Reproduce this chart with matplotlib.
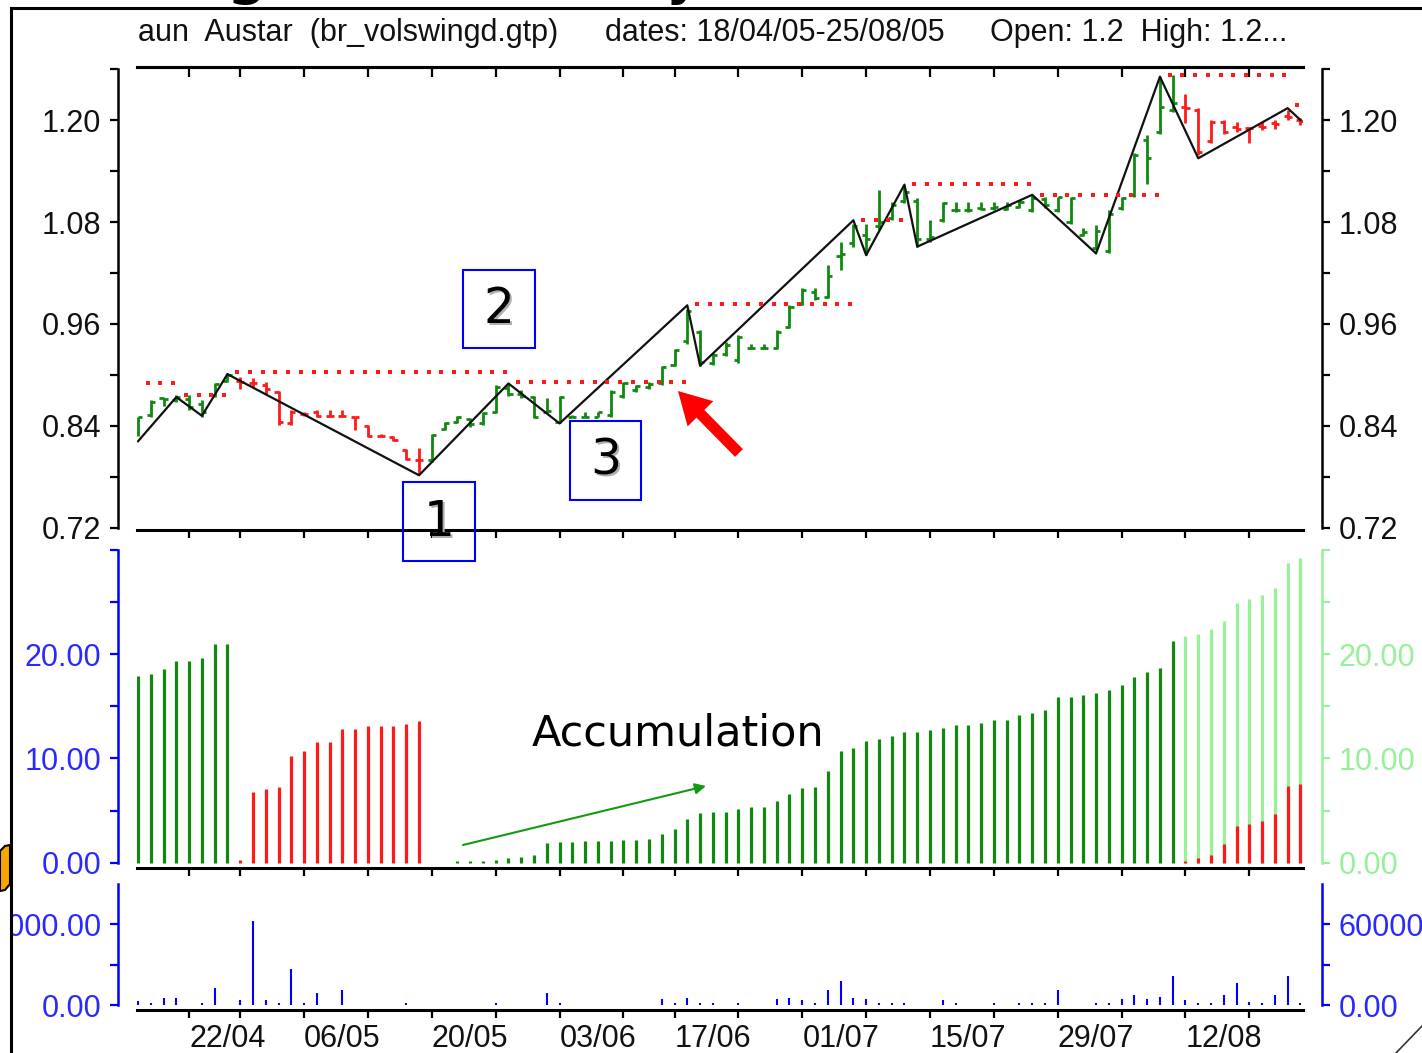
import numpy as np
import pandas as pd
import matplotlib
matplotlib.use('Agg')
import matplotlib.pyplot as plt
from matplotlib.ticker import FixedLocator, FixedFormatter
from matplotlib.patches import Rectangle, FancyArrow, Polygon

plt.rcParams['font.family'] = ['Liberation Sans', 'DejaVu Sans']

W, H = 1422, 1053

# ASX trading days (Anzac Day and Queen's Birthday closed)
days = pd.bdate_range('2005-04-18', '2005-08-25')
days = days[~days.isin(pd.to_datetime(['2005-04-25', '2005-06-13']))]
x = np.arange(len(days))
fridays = x[days.dayofweek == 4]
date_labels = [days[i].strftime('%d/%m') if k % 2 == 0 else '' for k, i in enumerate(fridays)]

# daily bars
highs = [0.851, 0.871, 0.873, 0.876, 0.876, 0.871, 0.891, 0.902, 0.898, 0.896,
         0.892, 0.881, 0.859, 0.856, 0.859, 0.859, 0.859, 0.851, 0.841, 0.831,
         0.828, 0.813, 0.814, 0.831, 0.845, 0.852, 0.849, 0.857, 0.888, 0.890,
         0.882, 0.875, 0.873, 0.875, 0.853, 0.857, 0.857, 0.882, 0.892, 0.888,
         0.892, 0.911, 0.931, 0.978, 0.953, 0.926, 0.939, 0.947, 0.937, 0.937,
         0.953, 0.982, 1.002, 1.002, 1.029, 1.057, 1.078, 1.078, 1.118, 1.104,
         1.124, 1.108, 1.082, 1.104, 1.104, 1.104, 1.104, 1.104, 1.104, 1.106,
         1.112, 1.110, 1.110, 1.110, 1.073, 1.077, 1.094, 1.110, 1.161, 1.182,
         1.251, 1.253, 1.231, 1.214, 1.200, 1.200, 1.198, 1.192, 1.198, 1.200,
         1.212, 1.202]
lows = [0.828, 0.851, 0.863, 0.868, 0.859, 0.851, 0.874, 0.892, 0.884, 0.886,
        0.878, 0.841, 0.841, 0.852, 0.851, 0.851, 0.851, 0.835, 0.827, 0.827,
        0.822, 0.800, 0.784, 0.798, 0.835, 0.844, 0.839, 0.841, 0.855, 0.875,
        0.873, 0.849, 0.855, 0.843, 0.850, 0.850, 0.850, 0.851, 0.873, 0.880,
        0.884, 0.888, 0.910, 0.937, 0.910, 0.912, 0.922, 0.914, 0.931, 0.931,
        0.931, 0.955, 0.982, 0.988, 0.990, 1.024, 1.051, 1.041, 1.071, 1.082,
        1.102, 1.051, 1.057, 1.080, 1.092, 1.092, 1.094, 1.094, 1.094, 1.096,
        1.092, 1.096, 1.092, 1.078, 1.063, 1.047, 1.043, 1.094, 1.110, 1.125,
        1.184, 1.210, 1.196, 1.159, 1.173, 1.184, 1.186, 1.173, 1.188, 1.190,
        1.200, 1.194]
opens = [0.833, 0.853, 0.873, 0.870, 0.872, 0.866, 0.876, 0.893, 0.893, 0.891,
         0.888, 0.880, 0.843, 0.854, 0.857, 0.852, 0.852, 0.850, 0.840, 0.828,
         0.827, 0.812, 0.800, 0.800, 0.836, 0.845, 0.848, 0.843, 0.857, 0.885,
         0.878, 0.874, 0.856, 0.845, 0.851, 0.851, 0.851, 0.853, 0.875, 0.882,
         0.886, 0.890, 0.912, 0.940, 0.950, 0.914, 0.925, 0.918, 0.932, 0.932,
         0.932, 0.957, 0.984, 0.998, 0.992, 1.040, 1.055, 1.065, 1.075, 1.085,
         1.105, 1.105, 1.060, 1.082, 1.094, 1.094, 1.096, 1.096, 1.095, 1.098,
         1.094, 1.107, 1.094, 1.080, 1.065, 1.049, 1.046, 1.096, 1.112, 1.176,
         1.186, 1.212, 1.215, 1.212, 1.175, 1.198, 1.192, 1.191, 1.193, 1.197,
         1.205, 1.200]
closes = [0.850, 0.868, 0.872, 0.874, 0.862, 0.856, 0.889, 0.900, 0.892, 0.890,
          0.883, 0.845, 0.857, 0.854, 0.852, 0.852, 0.852, 0.850, 0.828, 0.828,
          0.823, 0.801, 0.800, 0.829, 0.844, 0.851, 0.842, 0.855, 0.886, 0.878,
          0.875, 0.851, 0.858, 0.874, 0.851, 0.851, 0.856, 0.880, 0.890, 0.887,
          0.889, 0.909, 0.929, 0.975, 0.915, 0.924, 0.935, 0.945, 0.932, 0.932,
          0.951, 0.980, 1.000, 0.990, 1.016, 1.042, 1.075, 1.060, 1.080, 1.100,
          1.115, 1.060, 1.062, 1.102, 1.094, 1.094, 1.095, 1.098, 1.100, 1.103,
          1.108, 1.100, 1.109, 1.108, 1.068, 1.070, 1.090, 1.108, 1.159, 1.155,
          1.215, 1.220, 1.214, 1.162, 1.198, 1.186, 1.190, 1.191, 1.192, 1.195,
          1.203, 1.199]
# trend state of each bar: 1 = up (green), 0 = down (red)
trend = [1] * 8 + [0] * 15 + [1] * 59 + [0] * 10

# swing points (day, price)
swing_days = [0, 3, 5, 7, 22, 29, 33, 43, 44, 56, 57, 60, 61, 70, 75, 80, 83, 90, 91]
swing_px = [0.822, 0.874, 0.852, 0.901, 0.782, 0.890, 0.843, 0.982, 0.911, 1.082,
            1.041, 1.124, 1.051, 1.112, 1.043, 1.251, 1.155, 1.214, 1.200]

# breakout level per day
resist = ([0.891] * 4 + [0.877] * 4 + [0.903] * 22 + [0.892] * 14 + [0.984] * 13
          + [1.082] * 4 + [1.125] * 10 + [1.112] * 10 + [1.253] * 10 + [1.218])

# volume-swing counters
vs_up = [17.9, 18.1, 18.6, 19.3, 19.3, 19.6, 21.0, 21.0] + [0] * 17 + [
    0.2, 0.2, 0.2, 0.25, 0.5, 0.6, 0.8, 1.9, 2.0, 2.0, 2.1, 2.1, 2.1, 2.2, 2.2,
    2.3, 2.8, 3.3, 4.2, 4.75, 4.9, 4.9, 5.2, 5.4, 5.4, 5.9, 6.6, 7.15, 7.3, 8.8,
    10.75, 11.0, 11.7, 11.9, 12.2, 12.5, 12.5, 12.7, 12.9, 13.2, 13.2, 13.4,
    13.65, 13.65, 14.2, 14.4, 14.6, 15.9, 15.9, 16.1, 16.3, 16.6, 17.0, 17.8,
    18.25, 18.7, 21.2] + [0] * 10
vs_down = [0] * 8 + [0.3, 6.8, 7.1, 7.3, 10.2, 10.7, 11.6, 11.6, 12.8, 12.8, 13.1,
                     13.1, 13.1, 13.3, 13.6] + [0] * 59 + [
    0.2, 0.5, 0.8, 1.8, 3.5, 3.7, 4.0, 4.7, 7.4, 7.6]
vs_prev = [0] * 82 + [21.7, 21.9, 22.4, 23.2, 24.9, 25.3, 25.6, 26.3, 28.7, 29.2]

volume = [3000, 1500, 5500, 5500, 0, 1500, 12500, 0, 3600, 62000,
          3600, 1500, 27000, 1500, 9000, 0, 10800, 0, 0, 0,
          0, 1500, 0, 0, 0, 0, 0, 0, 1500, 0,
          0, 0, 9000, 1500, 0, 0, 0, 0, 0, 0,
          0, 4500, 1500, 5000, 1500, 1500, 0, 1500, 0, 0,
          4800, 5000, 3600, 1500, 10800, 18000, 5000, 4800, 1500, 1500,
          1500, 0, 0, 3600, 1500, 0, 0, 1500, 0, 1500,
          1500, 1500, 10800, 0, 0, 1500, 1500, 4800, 7200, 4800,
          6000, 21600, 3600, 1500, 1500, 7200, 16300, 2400, 1500, 7700,
          21600, 1500]

GREEN = '#0f8a0f'
RED = '#ff1a1a'
LGREEN = '#98f098'
BLUE = '#0000ff'
LBL = 22
X0, X1 = 137, 1303
XLIM = (-0.08, 91.2)


def px_rect(x0, y0, x1, y1):
    return [x0 / W, 1 - y1 / H, (x1 - x0) / W, (y1 - y0) / H]


def style_y(ax, side, color, ticks, labels, bounds, lcolor=None):
    other = 'right' if side == 'left' else 'left'
    for s in ('top', 'bottom', other):
        ax.spines[s].set_visible(False)
    sp = ax.spines[side]
    sp.set_position(('outward', 19 * 0.72))
    sp.set_bounds(*bounds)
    sp.set_color(color)
    sp.set_linewidth(1.8)
    ax.yaxis.set_major_locator(FixedLocator(ticks))
    ax.yaxis.set_major_formatter(FixedFormatter(labels))
    ax.yaxis.set_ticks_position(side)
    ax.tick_params(axis='y', which='major', direction='out', length=6, width=1.6,
                   color=color, labelcolor=lcolor or color, labelsize=LBL, pad=6)


def style_x(ax, top=False, labels=False):
    ax.set_xlim(*XLIM)
    ax.spines['bottom'].set_linewidth(2.2)
    ax.spines['top'].set_linewidth(2.2)
    ax.spines['top'].set_visible(top)
    ax.set_xticks(fridays, date_labels if labels else [''] * len(fridays))
    ax.tick_params(axis='x', which='major', direction='out', length=6, width=1.6,
                   top=False, bottom=True, labelsize=LBL, pad=4, labelcolor='#111111')
    if labels:
        for t in ax.get_xticklabels():
            t.set_horizontalalignment('left')
    ax.patch.set_alpha(0)


fig = plt.figure(figsize=(W / 100, H / 100), dpi=100)
fig.patch.set_facecolor('white')

# ---- price panel ----
ax1 = fig.add_axes(px_rect(X0, 67, X1, 530))
ax1.set_ylim(0.7176, 1.2624)
style_x(ax1, top=True)
p_ticks = [0.72, 0.78, 0.84, 0.90, 0.96, 1.02, 1.08, 1.14, 1.20, 1.26]
p_labels = ['%.2f' % v if i % 2 == 0 and v < 1.25 else '' for i, v in enumerate(p_ticks)]
style_y(ax1, 'left', 'black', p_ticks, p_labels, (0.72, 1.26), '#111111')
ax1.spines['top'].set_visible(True)
ax1.spines['bottom'].set_visible(True)
# top border ticks hang inside
top_ax = ax1.secondary_xaxis('top')
top_ax.set_xticks(fridays, [''] * len(fridays))
top_ax.tick_params(direction='in', length=7, width=1.6)
top_ax.spines['top'].set_linewidth(2.2)

ax1r = ax1.twinx()
ax1r.set_ylim(ax1.get_ylim())
style_y(ax1r, 'right', 'black', p_ticks, p_labels, (0.72, 1.26), '#111111')
ax1r.set_xlim(*XLIM)

colors = [GREEN if t else RED for t in trend]
ax1.vlines(x, lows, highs, colors=colors, lw=2.0, zorder=2)
ax1.hlines(opens, x - 0.32, x, colors=colors, lw=2.0, zorder=2)
ax1.hlines(closes, x, x + 0.32, colors=colors, lw=2.0, zorder=2)
ax1.plot(swing_days, swing_px, color='#111111', lw=1.6, zorder=3)
ax1.plot(x - 0.25, resist, ls='none', marker='s', ms=3.3, mew=0,
         color=RED, zorder=4)

# ---- volume-swing panel ----
ax2 = fig.add_axes(px_rect(X0, 547, X1, 868))
ax2.set_ylim(-0.48, 30.24)
style_x(ax2)
m_ticks = [0, 5, 10, 15, 20, 25, 30]
m_labels = ['0.00', '', '10.00', '', '20.00', '', '']
style_y(ax2, 'left', BLUE, m_ticks, m_labels, (0, 30), '#2a2aff')
ax2.spines['bottom'].set_visible(True)
ax2r = ax2.twinx()
ax2r.set_ylim(ax2.get_ylim())
style_y(ax2r, 'right', LGREEN, m_ticks, m_labels, (0, 30))
ax2r.set_xlim(*XLIM)

ax2.vlines(x, 0, vs_up, colors=GREEN, lw=2.3)
ax2.vlines(x, 0, vs_prev, colors=LGREEN, lw=2.3)
ax2.vlines(x, 0, vs_down, colors=RED, lw=2.3)

# ---- volume panel ----
ax3 = fig.add_axes(px_rect(X0, 884, X1, 1010))
ax3.set_ylim(-3700, 89630)
style_x(ax3, labels=True)
v_ticks = [0, 30000, 60000, 90000]
v_labels = ['0.00', '', '60000.00', '']
style_y(ax3, 'left', BLUE, v_ticks, v_labels, (0, 90000), '#2a2aff')
ax3.spines['bottom'].set_visible(True)
ax3r = ax3.twinx()
ax3r.set_ylim(ax3.get_ylim())
style_y(ax3r, 'right', BLUE, v_ticks, v_labels, (0, 90000), '#2a2aff')
ax3r.set_xlim(*XLIM)
ax3.vlines(x, 0, volume, colors=BLUE, lw=1.5)

# ---- title ----
for tx, txt in [(138, 'aun  Austar  (br_volswingd.gtp)'),
                (605, 'dates: 18/04/05-25/08/05'),
                (990, 'Open: 1.2  High: 1.2...')]:
    fig.text(tx / W, 1 - 33 / H, txt, fontsize=LBL, va='center', color='#111111')

# ---- callouts drawn in pixel space ----
ov = fig.add_axes([0, 0, 1, 1], zorder=20)
ov.set_xlim(0, W)
ov.set_ylim(H, 0)
ov.axis('off')
ov.patch.set_alpha(0)

for (bx0, by0, bx1, by1), label in [((463, 270, 535, 348), '2'),
                                     ((570, 421, 641, 500), '3'),
                                     ((403, 482, 475, 561), '1')]:
    ov.add_patch(Rectangle((bx0, by0), bx1 - bx0, by1 - by0, fill=False,
                           edgecolor=BLUE, lw=1.5))
    cx, cy = (bx0 + bx1) / 2, (by0 + by1) / 2
    ov.text(cx + 2, cy + 2, label, fontsize=35, ha='center', va='center',
            color='#b0b0b0', family='DejaVu Sans')
    ov.text(cx, cy, label, fontsize=35, ha='center', va='center',
            color='black', family='DejaVu Sans')

ov.add_patch(FancyArrow(739, 453, -61, -62, width=11, head_width=36,
                        head_length=32, length_includes_head=True,
                        color='#ff0000', lw=0))

ov.text(678, 733, 'Accumulation', fontsize=31, ha='center', va='center',
        color='black', family='DejaVu Sans')
ov.annotate('', xy=(706, 786), xytext=(463, 845),
            arrowprops=dict(arrowstyle='-|>', color='#129a12', lw=1.5,
                            mutation_scale=16, shrinkA=0, shrinkB=0))

# slide frame around the chart, with the slide heading running off the top
ov.add_patch(Rectangle((0, 0), 10, H, color='white', zorder=5))
ov.add_patch(Polygon([(0, 851), (5, 846), (10, 845), (10, 884), (5, 890), (0, 891)],
                     closed=True, facecolor='#f7a600', edgecolor='black', lw=1.5,
                     zorder=5))
ov.plot([11, 11], [8, H], color='black', lw=2.2, zorder=6)
ov.plot([11, W], [8, 8], color='black', lw=2.2, zorder=6)
ov.plot([1396, W], [H, 1026], color='#333333', lw=1.2, zorder=6)
for gx, ch in [(246, 'g'), (686, 'y')]:
    ov.text(gx, -9, ch, fontsize=50, ha='center', va='baseline', color='black',
            family='DejaVu Sans', zorder=6)

fig.savefig('out.png', dpi=100)
